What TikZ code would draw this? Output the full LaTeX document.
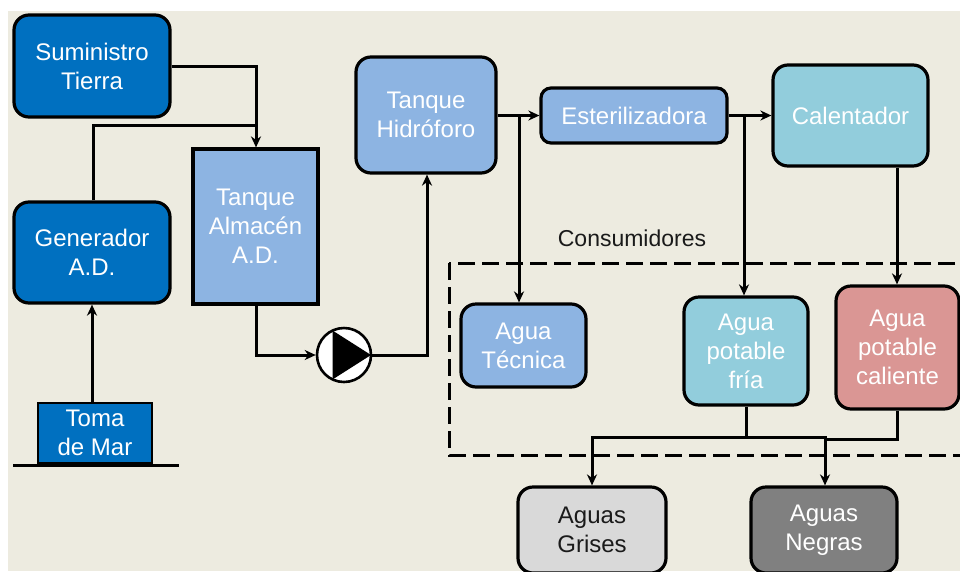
\documentclass[tikz,border=0pt]{standalone}
\usepackage{fontspec}
\setmainfont{Liberation Sans}
\usetikzlibrary{arrows.meta,calc}
\definecolor{bgc}{HTML}{EDEBE0}
\definecolor{dblue}{HTML}{0070C0}
\definecolor{lblue}{HTML}{8DB4E2}
\definecolor{teal}{HTML}{92CDDC}
\definecolor{pinkc}{HTML}{DA9694}
\definecolor{lgrey}{HTML}{D9D9D9}
\definecolor{dgrey}{HTML}{808080}
\definecolor{txtdark}{HTML}{1A1A1A}
\tikzset{
  box/.style={draw=black, line width=3.2pt, rounded corners=15pt, inner sep=0pt,
    align=center, text=white, font=\fontsize{24}{29}\selectfont},
  sqbox/.style={box, rounded corners=0pt},
  flow/.style={line width=3pt, -{Stealth[length=11pt,width=10pt,inset=3.5pt]}},
  plain/.style={line width=3pt},
  zone/.style={line width=3pt, dash pattern=on 17pt off 7pt}
}
\begin{document}
\begin{tikzpicture}[x=1pt,y=-1pt]
\useasboundingbox (0,0) rectangle (960,571);
\clip (0,0) rectangle (960,571);
\fill[white] (0,0) rectangle (960,571);
\fill[bgc] (8,11) rectangle (960,571);

% consumer zone
\draw[zone] (449,263) rectangle (990,455);
\node[text=txtdark, font=\fontsize{23}{28}\selectfont] (cons) at (632,238) {Consumidores};

% nodes
\node[box, fill=dblue, minimum width=156pt, minimum height=102pt] (sum) at (92,66) {Suministro\\Tierra};
\node[box, fill=dblue, minimum width=156pt, minimum height=101pt] (gen) at (92,252.5) {Generador\\A.D.};
\node[sqbox, fill=lblue, minimum width=125pt, minimum height=155pt] (alm) at (255.5,226.5) {Tanque\\Almacén\\A.D.};
\node[sqbox, fill=dblue, line width=2.6pt, minimum width=114pt, minimum height=60pt] (toma) at (95,433) {Toma\\de Mar};
\node[box, fill=lblue, minimum width=140pt, minimum height=116pt] (hid) at (426,115) {Tanque\\Hidróforo};
\node[box, fill=lblue, rounded corners=10pt, minimum width=186pt, minimum height=55pt] (est) at (634,115.5) {Esterilizadora};
\node[box, fill=teal, minimum width=155pt, minimum height=101pt] (cal) at (850.5,115.5) {Calentador};
\node[box, fill=lblue, minimum width=125pt, minimum height=83pt] (tec) at (523.5,345.5) {Agua\\Técnica};
\node[box, fill=teal, minimum width=124pt, minimum height=108pt] (fria) at (746,351) {Agua\\potable\\fría};
\node[box, fill=pinkc, minimum width=123pt, minimum height=123pt] (cali) at (897.5,347.5) {Agua\\potable\\caliente};
\node[box, fill=lgrey, text=txtdark, minimum width=148pt, minimum height=86pt] (gris) at (592,530) {Aguas\\Grises};
\node[box, fill=dgrey, minimum width=146pt, minimum height=86pt] (neg) at (824,530) {Aguas\\Negras};

% pump
\node[draw=black, circle, line width=2.6pt, fill=white, minimum size=54pt, inner sep=0pt] (pump) at (344,355) {};
\fill[black] ($(pump.center)+(27,0)$) -- ($(pump.center)+(-11.5,-24.5)$) -- ($(pump.center)+(-11.5,24.5)$) -- cycle;

% ground line
\coordinate (g1) at (13,465);
\coordinate (g2) at (179,465);
\draw[plain] (g1) -- (g2);

% connectors
\coordinate (j1) at (256,66);
\coordinate (j2) at (256,125);
\coordinate (j3) at (93,125);
\draw[flow] (sum.east |- j1) -- (j1) -- (alm.north -| j1);
\draw[plain] (gen.north -| j3) -- (j3) -- (j2);
\draw[flow] (toma.north -| gen.south) -- (gen.south);
\coordinate (j4) at (256,355);
\draw[flow] (alm.south -| j4) -- (j4) -- (pump.west);
\coordinate (j5) at (427,355);
\draw[flow] (pump.east) -- (j5) -- (hid.south -| j5);
\draw[flow] (hid.east |- est.west) -- (est.west);
\coordinate (j6) at (519,115.5);
\draw[flow] (j6) -- (tec.north -| j6);
\draw[flow] (est.east) -- (cal.west);
\coordinate (j7) at (744,115.5);
\draw[flow] (j7) -- (fria.north -| j7);
\coordinate (j8) at (897,115.5);
\draw[flow] (cal.south -| j8) -- (cali.north -| j8);
\coordinate (j9) at (746,437);
\coordinate (j10) at (592,437);
\coordinate (j11) at (825,437);
\coordinate (j12) at (897,439);
\draw[plain] (fria.south) -- (j9);
\draw[flow] (j9) -- (j10) -- (gris.north -| j10);
\draw[flow] (j9) -- (j11) -- (neg.north -| j11);
\draw[plain] (cali.south -| j12) -- (j12) -- (j11 |- j12);
\end{tikzpicture}
\end{document}
